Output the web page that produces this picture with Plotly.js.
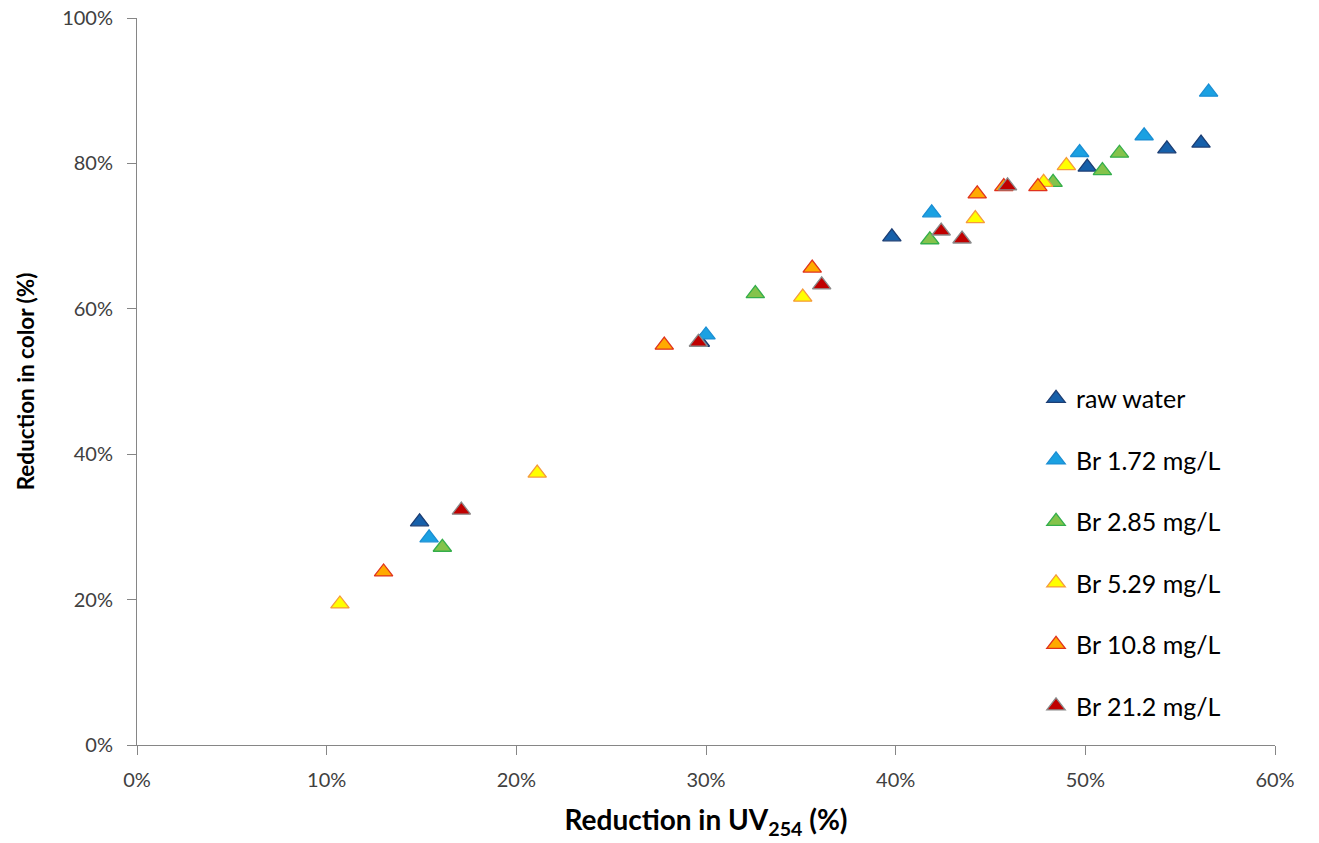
<!DOCTYPE html>
<html>
<head>
<meta charset="utf-8">
<script src="https://cdn.plot.ly/plotly-3.0.1.min.js"></script>
<style>
  html, body { margin: 0; padding: 0; background: #ffffff; }
  #chart { width: 1319px; height: 843px; }
</style>
</head>
<body>
<div id="chart"></div>
<script>
// Reduction in UV254 (x, %) vs reduction in colour (y, %) per bromide dose
const seriesNames = ['raw water', 'Br 1.72 mg/L', 'Br 2.85 mg/L', 'Br 5.29 mg/L', 'Br 10.8 mg/L', 'Br 21.2 mg/L'];

const rawX   = [14.9, 29.7, 39.8, 50.1, 54.3, 56.1];
const rawY   = [30.7, 55.4, 69.9, 79.5, 82.0, 82.8];

const br172X = [15.4, 30.0, 41.9, 49.7, 53.1, 56.5];
const br172Y = [28.5, 56.4, 73.2, 81.5, 83.8, 89.8];

const br285X = [16.1, 32.6, 41.8, 48.3, 50.9, 51.8];
const br285Y = [27.2, 62.1, 69.5, 77.4, 79.0, 81.4];

const br529X = [10.7, 21.1, 35.1, 44.2, 47.8, 49.0];
const br529Y = [19.4, 37.4, 61.6, 72.4, 77.4, 79.7];

const br108X = [13.0, 27.8, 35.6, 44.3, 45.7, 47.5];
const br108Y = [23.8, 55.0, 65.6, 75.8, 76.8, 76.8];

const br212X = [17.1, 29.6, 36.1, 42.4, 43.5, 45.9];
const br212Y = [32.3, 55.4, 63.3, 70.7, 69.6, 76.9];

const fills   = ['#1660AA', '#1BA1E2', '#84C34B', '#FFFF00', '#FFAA00', '#C00000'];
const borders = ['#1C3E74', '#1B8ED3', '#34AE4B', '#F59A3C', '#E0321C', '#8A8A8A'];

const xs = [rawX, br172X, br285X, br529X, br108X, br212X];
const ys = [rawY, br172Y, br285Y, br529Y, br108Y, br212Y];

const traces = seriesNames.map((name, i) => ({
  type: 'scatter',
  mode: 'markers',
  name: name,
  legendgroup: 'g' + i,
  x: xs[i].map(v => v / 100),
  y: ys[i].map(v => v / 100),
  marker: {
    symbol: 'triangle-up',
    size: 16,
    color: fills[i],
    line: { color: borders[i], width: 1.3 }
  }
}));

const family = 'Lato, "Open Sans", sans-serif';
const tickFont = { family: family, size: 20, color: '#404040' };

const layout = {
  width: 1319,
  height: 843,
  margin: { l: 137, r: 44, t: 18, b: 98 },
  paper_bgcolor: '#ffffff',
  plot_bgcolor: '#ffffff',
  showlegend: true,
  legend: {
    x: 0.79, xanchor: 'left',
    y: 0.508, yanchor: 'top',
    font: { family: family, size: 25, color: '#000000' },
    tracegroupgap: 26,
    itemwidth: 30,
    bgcolor: 'rgba(0,0,0,0)'
  },
  xaxis: {
    range: [0, 0.6],
    tickvals: [0, 0.1, 0.2, 0.3, 0.4, 0.5, 0.6],
    tickformat: '.0%',
    ticks: 'outside', ticklen: 9, tickcolor: '#868686', tickwidth: 1,
    ticklabelstandoff: 8,
    showline: true, linecolor: '#868686', linewidth: 1,
    showgrid: false, zeroline: false,
    tickfont: tickFont,
    title: { text: 'Reduction in UV<sub>254</sub> (%)', font: { family: family, size: 28, color: '#000000', weight: 'bold' }, standoff: 20 }
  },
  yaxis: {
    range: [0, 1],
    tickvals: [0, 0.2, 0.4, 0.6, 0.8, 1.0],
    tickformat: '.0%',
    ticks: 'outside', ticklen: 9, tickcolor: '#868686', tickwidth: 1,
    ticklabelstandoff: 10,
    showline: true, linecolor: '#868686', linewidth: 1,
    showgrid: false, zeroline: false,
    tickfont: tickFont,
    title: { text: 'Reduction in color (%)', font: { family: family, size: 22.5, color: '#000000', weight: 'bold' }, standoff: 21 }
  }
};

Plotly.newPlot('chart', traces, layout, { displayModeBar: false, staticPlot: true });
</script>
</body>
</html>
